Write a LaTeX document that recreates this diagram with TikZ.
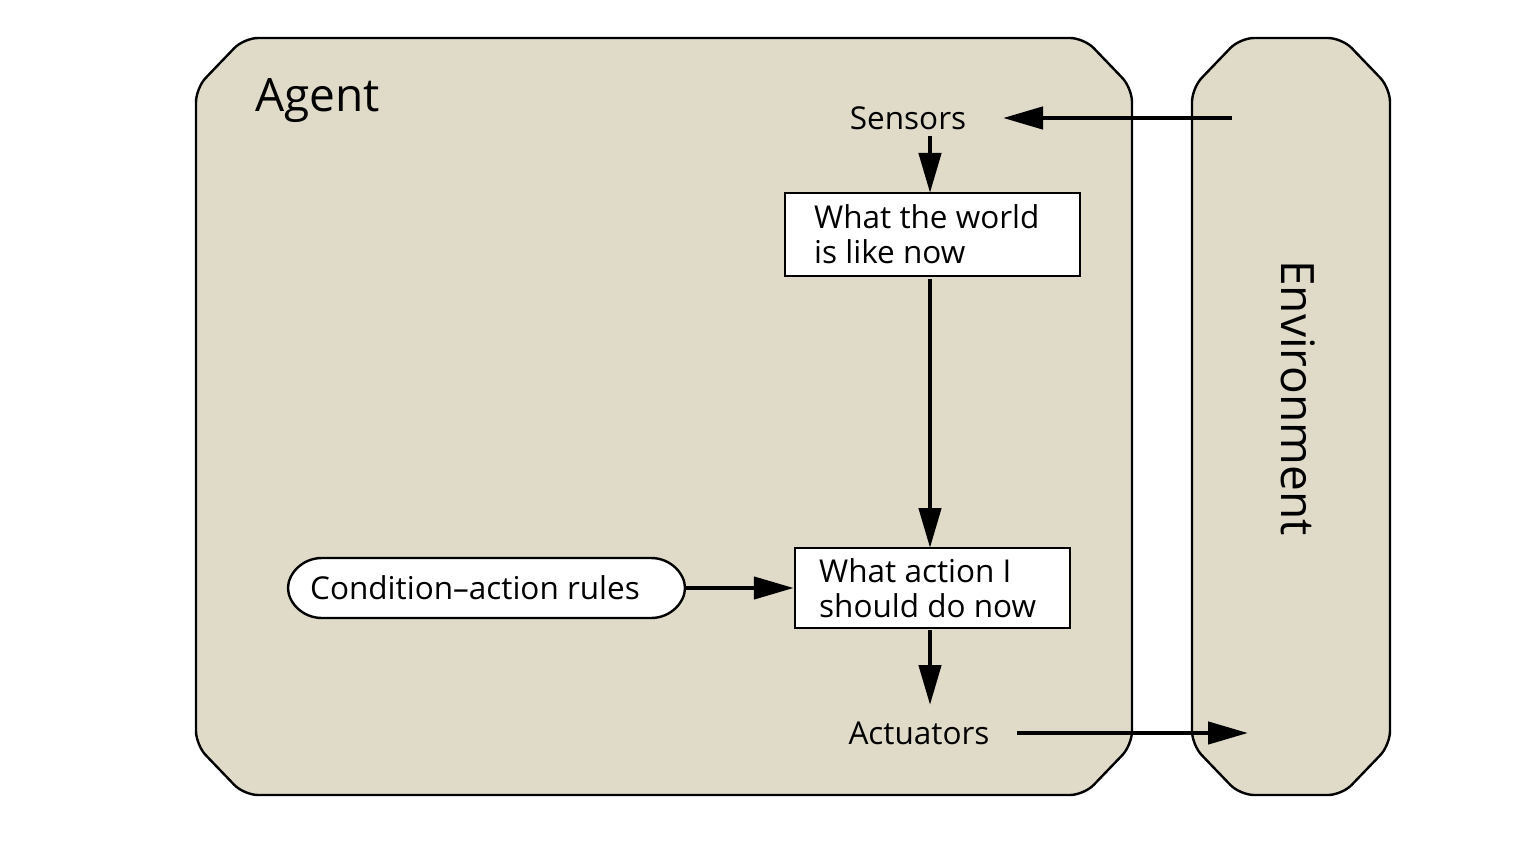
\documentclass[tikz,border=0pt]{standalone}
\usepackage{fontspec}
\setmainfont{Open Sans}
\usetikzlibrary{arrows.meta}
\definecolor{bgfill}{RGB}{224,219,201}
\tikzset{
  panel/.style={draw=black,line width=2.4pt,fill=bgfill,rounded corners=14pt},
  flow/.style={line width=4.5pt,-{Triangle[length=40pt,width=22pt]}},
  lbl/.style={font=\fontsize{31.5}{35}\selectfont,inner sep=0pt},
  boxtxt/.style={anchor=west,align=left,font=\fontsize{31.5}{35}\selectfont,inner sep=0pt},
  plainbox/.style={draw=black,line width=2.4pt,fill=white,inner sep=0pt},
}
\begin{document}
\begin{tikzpicture}[x=1pt,y=-1pt]
\useasboundingbox[fill=white] (0,0) rectangle (1526,850);
% Agent panel
\draw[panel] (196,88) -- (244,38) -- (1084,38) -- (1132,88) -- (1132,745) -- (1084,795) -- (244,795) -- (196,745) -- cycle;
% Environment panel
\draw[panel] (1192,88) -- (1240,38) -- (1342,38) -- (1390,88) -- (1390,745) -- (1342,795) -- (1240,795) -- (1192,745) -- cycle;
\node[font=\fontsize{46}{50}\selectfont,anchor=base west,inner sep=0pt] (agent) at (255,112) {Agent};
\node[font=\fontsize{46}{50}\selectfont,rotate=-90,inner sep=0pt] (env) at (1298,398) {Environment};
\node[lbl] (sensors) at (908,118) {Sensors};
\node[lbl] (actuators) at (919,733) {Actuators};
\node[plainbox,minimum width=295pt,minimum height=83pt] (world) at (932.5,234.5) {};
\node[boxtxt] (worldtxt) at (814,234.5) {What the world\\is like now};
\node[plainbox,minimum width=275pt,minimum height=80pt] (action) at (932.5,588) {};
\node[boxtxt] (actiontxt) at (819,588) {What action I\\should do now};
% Condition-action rules
\coordinate (rl) at (288,588);
\coordinate (rr) at (685,588);
\draw[draw=black,line width=2.4pt,fill=white]
  (rl) .. controls (288,574) and (302,558) .. (322,558) -- (651,558)
  .. controls (671,558) and (685,574) .. (rr)
  .. controls (685,602) and (671,618) .. (651,618) -- (322,618)
  .. controls (302,618) and (288,602) .. (rl) -- cycle;
\node[lbl] (rules) at (475,588) {Condition--action rules};
\coordinate (envin) at (1232,118);
\coordinate (envout) at (1248,733);
\coordinate (actstart) at (1017,733);
\coordinate (senend) at (1003,118);
\draw[flow] (envin) -- (senend);
\draw[flow] (930,136) -- (930,193);
\draw[flow] (930,279) -- (930,548);
\draw[flow] (930,630) -- (930,705);
\draw[flow] (actstart) -- (envout);
\draw[flow] (rr) -- (action.west);
\end{tikzpicture}
\end{document}
